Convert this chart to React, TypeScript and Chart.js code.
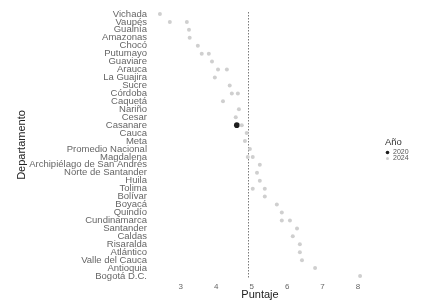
import React, { useEffect, useRef } from "react";
import { Chart, registerables } from "chart.js";

Chart.register(...registerables);

const departments = [
  "Vichada", "Vaupés", "Guainía", "Amazonas", "Chocó", "Putumayo", "Guaviare",
  "Arauca", "La Guajira", "Sucre", "Córdoba", "Caquetá", "Nariño", "Cesar",
  "Casanare", "Cauca", "Meta", "Promedio Nacional", "Magdalena",
  "Archipiélago de San Andrés", "Norte de Santander", "Huila", "Tolima",
  "Bolívar", "Boyacá", "Quindío", "Cundinamarca", "Santander", "Caldas",
  "Risaralda", "Atlántico", "Valle del Cauca", "Antioquia", "Bogotá D.C.",
];

const score2024 = [
  2.41, 3.17, 3.23, 3.25, 3.48, 3.79, 3.88, 4.3, 3.96, 4.38, 4.61, 4.19, 4.64,
  4.55, 4.72, 4.86, 4.81, 4.95, 5.03, 5.23, 5.15, 5.23, 5.37, 5.37, 5.71, 5.85,
  6.08, 6.28, 6.16, 6.36, 6.36, 6.42, 6.79, 8.06,
];

const score2020: (number | null)[] = [
  null, 2.69, null, null, null, 3.59, null, 4.05, null, null, 4.44, null, null,
  null, 4.58, null, null, null, 4.89, null, null, null, 5.03, null, null, null,
  5.85, null, null, null, null, null, null, null,
];

const xTicks = [3, 4, 5, 6, 7, 8];
const nationalMean = 4.9;
const highlightDept = "Casanare";
const legendTitle = "Año";
const years = ["2020", "2024"];

const FONT = '"Liberation Sans", Arial, sans-serif';
const DARK = "#1e1e1e";
const FAINT = "#cfcfcf";

export default function App() {
  const ref = useRef<HTMLCanvasElement | null>(null);

  useEffect(() => {
    if (!ref.current) return;
    Chart.defaults.font.family = FONT;

    const meanLine = {
      id: "meanLine",
      beforeDatasetsDraw(chart: any) {
        const { ctx, chartArea, scales } = chart;
        const x = scales.x.getPixelForValue(nationalMean);
        ctx.save();
        ctx.strokeStyle = "#7a7a7a";
        ctx.lineWidth = 1;
        ctx.setLineDash([1.5, 1.5]);
        ctx.beginPath();
        ctx.moveTo(Math.round(x) + 0.5, chartArea.top + 2);
        ctx.lineTo(Math.round(x) + 0.5, chartArea.bottom - 2);
        ctx.stroke();
        ctx.restore();
      },
    };

    const legendPlugin = {
      id: "customLegend",
      afterDraw(chart: any) {
        const { ctx } = chart;
        const x0 = 385;
        ctx.save();
        ctx.textBaseline = "middle";
        ctx.textAlign = "left";
        ctx.fillStyle = "#333";
        ctx.font = `9.5px ${FONT}`;
        ctx.fillText(legendTitle, x0, 142);
        ctx.font = `7px ${FONT}`;
        years.forEach((yr, i) => {
          const y = 152.5 + i * 6;
          ctx.beginPath();
          ctx.fillStyle = i === 0 ? DARK : FAINT;
          ctx.arc(x0 + 2.5, y, i === 0 ? 1.8 : 1.5, 0, Math.PI * 2);
          ctx.fill();
          ctx.fillStyle = "#555";
          ctx.fillText(yr, x0 + 8, y);
        });
        ctx.restore();
      },
    };

    const chart = new Chart(ref.current, {
      type: "scatter",
      data: {
        datasets: [
          {
            label: "2024",
            data: departments.map((d, i) => ({ x: score2024[i], y: d })) as any,
            pointRadius: 2,
            pointBorderWidth: 0,
            backgroundColor: FAINT,
            borderColor: FAINT,
          },
          {
            label: "2020",
            data: departments
              .map((d, i) => (score2020[i] == null ? null : { x: score2020[i], y: d }))
              .filter((p) => p !== null) as any,
            pointRadius: (c: any) => (c.raw && c.raw.y === highlightDept ? 2.8 : 2),
            pointBorderWidth: 0,
            backgroundColor: (c: any) => (c.raw && c.raw.y === highlightDept ? DARK : FAINT),
            borderColor: (c: any) => (c.raw && c.raw.y === highlightDept ? DARK : FAINT),
          },
        ],
      },
      options: {
        animation: false,
        responsive: false,
        maintainAspectRatio: false,
        layout: { padding: { left: 15, right: 52, top: 10, bottom: 0 } },
        plugins: { legend: { display: false }, tooltip: { enabled: false } },
        scales: {
          x: {
            type: "linear",
            min: 2.13,
            max: 8.34,
            afterBuildTicks: (a: any) => {
              a.ticks = xTicks.map((v) => ({ value: v }));
            },
            afterFit: (s: any) => {
              s.height = 22;
            },
            grid: { display: false, drawTicks: false },
            border: { display: false },
            ticks: { font: { size: 8 }, color: "#666", padding: 2 },
            title: {
              display: true,
              text: "Puntaje",
              font: { size: 11 },
              color: "#222",
              padding: 0,
            },
          },
          y: {
            type: "category",
            labels: departments,
            offset: true,
            afterFit: (s: any) => {
              s.width = 135;
            },
            grid: { display: false, drawTicks: false },
            border: { display: false },
            ticks: { autoSkip: false, font: { size: 9.5 }, color: "#666", padding: 3 },
            title: {
              display: true,
              text: "Departamento",
              font: { size: 11 },
              color: "#222",
              padding: 0,
            },
          },
        },
      } as any,
      plugins: [meanLine, legendPlugin],
    });

    return () => chart.destroy();
  }, []);

  return (
    <div style={{ position: "absolute", left: 0, top: 0, width: 422, height: 302, background: "#fff" }}>
      <canvas ref={ref} width={422} height={302} style={{ width: 422, height: 302 }} />
    </div>
  );
}
